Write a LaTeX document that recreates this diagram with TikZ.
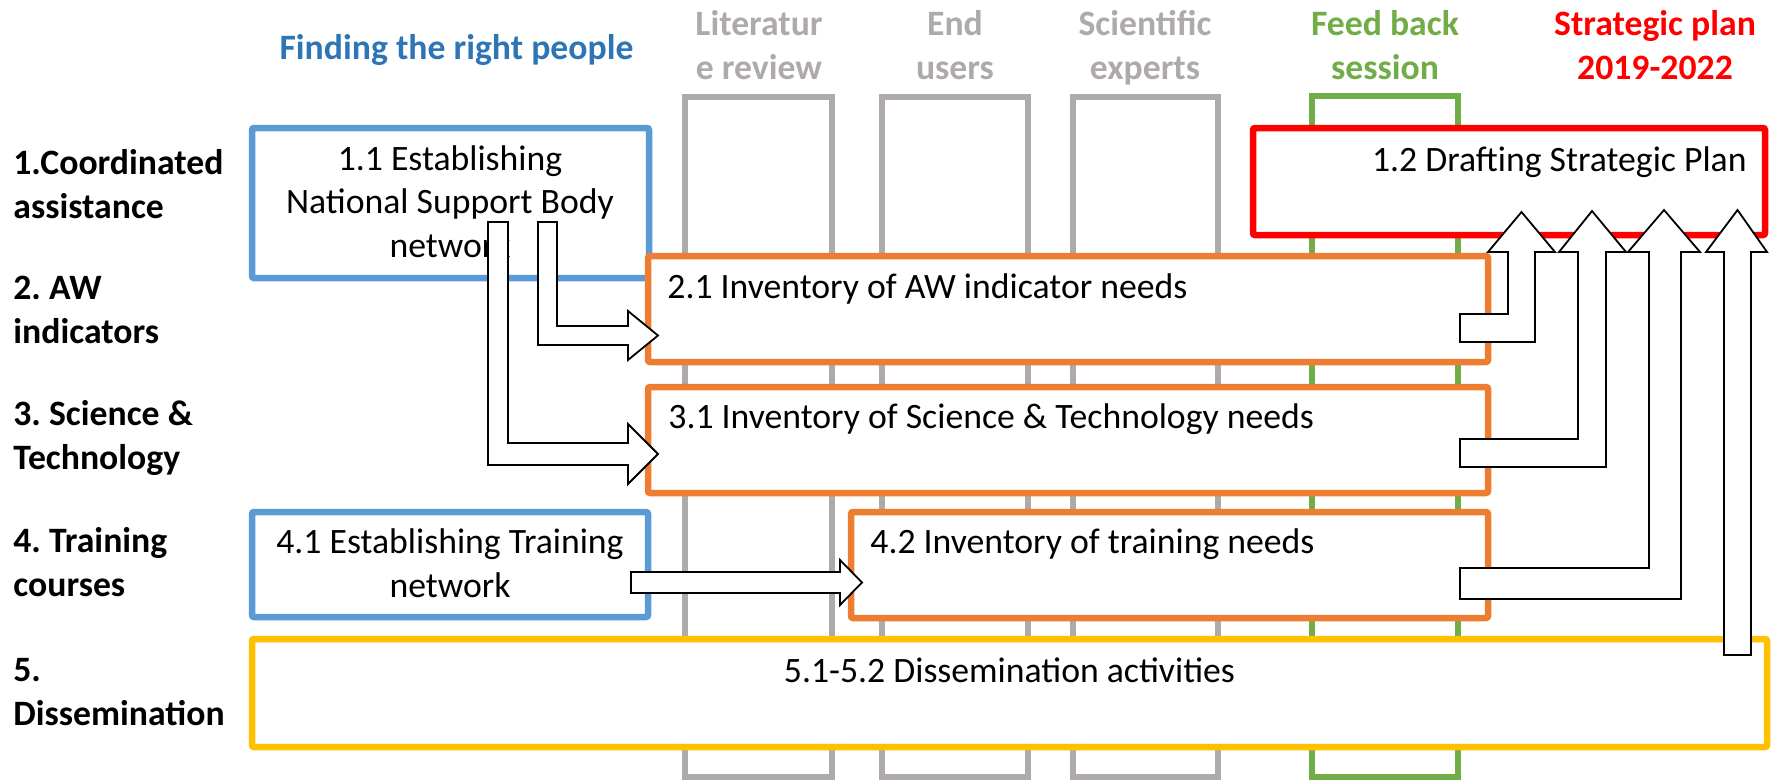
\documentclass[tikz,border=0pt]{standalone}
\usepackage{fontspec}
\setmainfont{Carlito}
\usetikzlibrary{fit}
\definecolor{boxblue}{HTML}{5B9BD5}
\definecolor{headblue}{HTML}{2E75B6}
\definecolor{boxorange}{HTML}{ED7D31}
\definecolor{boxyellow}{HTML}{FFC000}
\definecolor{colgrey}{HTML}{AEAAAA}
\definecolor{colgreen}{HTML}{70AD47}
\definecolor{planred}{HTML}{FF0000}
\frenchspacing

\begin{document}
\begin{tikzpicture}[x=0.5pt, y=-0.5pt,
    txt/.style={inner sep=0pt, font=\fontsize{17.85pt}{21.75pt}\selectfont},
    lbl/.style={txt, font=\fontsize{17.85pt}{21.75pt}\selectfont\bfseries, align=left, anchor=base west},
    head/.style={txt, font=\fontsize{17.85pt}{21.75pt}\selectfont\bfseries, align=center, anchor=base},
    column/.style={draw=colgrey, line width=3.25pt, inner sep=0pt},
    box/.style={draw, fill=white, line width=3.25pt, rounded corners=1pt, inner sep=0pt},
    blockarrow/.style={draw=black, fill=white, line width=0.9pt, line join=miter}]
    \useasboundingbox (0,0) rectangle (1773,782);

    % columns behind the boxes
    \node [column, fit={(685,97) (832,777)}] (litcol) {};
    \node [column, fit={(882,97) (1028,777)}] (endcol) {};
    \node [column, fit={(1073,97) (1218,777)}] (scicol) {};
    \node [column, draw=colgreen, fit={(1312,96) (1458,777)}] (feedcol) {};

    % headers (base = last line)
    \node [head, text=headblue] (hpeople) at (456.5,59) {Finding the right people};
    \node [head, text=colgrey] (hlit) at (759,79) {Literatur\\e review};
    \node [head, text=colgrey] (hend) at (955,79) {End\\users};
    \node [head, text=colgrey] (hsci) at (1145,79) {Scientific\\experts};
    \node [head, text=colgreen] (hfeed) at (1385,79) {Feed back\\session};
    \node [head, text=planred] (hplan) at (1655,79) {Strategic plan\\2019-2022};

    % rows
    \node [lbl] (row1) at (13,218) {1.Coordinated\\assistance};
    \node [lbl] (row2) at (13,343) {2. AW\\indicators};
    \node [lbl] (row3) at (13,469) {3. Science \&\\Technology};
    \node [lbl] (row4) at (13,596) {4. Training\\courses};
    \node [lbl] (row5) at (13,725) {5.\\Dissemination};

    % boxes
    \node [box, draw=boxblue, fit={(252,128) (649,278)}] (b11) {};
    \node [box, draw=planred, fit={(1253,128) (1765,235)}] (b12) {};
    \node [box, draw=boxorange, fit={(648,256) (1488,362)}] (b21) {};
    \node [box, draw=boxorange, fit={(648,387) (1488,493)}] (b31) {};
    \node [box, draw=boxblue, fit={(252,512) (648,617)}] (b41) {};
    \node [box, draw=boxorange, fit={(851,512) (1488,618)}] (b42) {};
    \node [box, draw=boxyellow, fit={(252,639) (1767,747)}] (b5) {};

    \node [txt, align=center, anchor=base] (t11) at (450,257) {1.1 Establishing\\National Support Body\\network};
    \node [txt, anchor=base east] (t12) at (1747,171) {1.2 Drafting Strategic Plan};
    \node [txt, anchor=base west] (t21) at (667,298) {2.1 Inventory of AW indicator needs};
    \node [txt, anchor=base west] (t31) at (668,428) {3.1 Inventory of Science \& Technology needs};
    \node [txt, align=center, anchor=base] (t41) at (450,597) {4.1 Establishing Training\\network};
    \node [txt, anchor=base west] (t42) at (870,553) {4.2 Inventory of training needs};
    \node [txt, anchor=base] (t5) at (1009.5,682) {5.1-5.2 Dissemination activities};

    % block arrows
    \draw [blockarrow] (538,222) -- (557,222) -- (557,326) -- (628,326) -- (628,311)
        -- (658,335.5) -- (628,360) -- (628,345) -- (538,345) -- cycle;
    \draw [blockarrow] (488,222) -- (508,222) -- (508,443) -- (628,443) -- (628,424)
        -- (658,454) -- (628,484) -- (628,465) -- (488,465) -- cycle;
    \draw [blockarrow] (631,572) -- (840,572) -- (840,560) -- (862,582.5) -- (840,605)
        -- (840,593) -- (631,593) -- cycle;
    \draw [blockarrow] (1460,314) -- (1508,314) -- (1508,252) -- (1488,252) -- (1521.5,212)
        -- (1555,252) -- (1535,252) -- (1535,342) -- (1460,342) -- cycle;
    \draw [blockarrow] (1460,439) -- (1578,439) -- (1578,252) -- (1559,252) -- (1592,211)
        -- (1626,252) -- (1606,252) -- (1606,467) -- (1460,467) -- cycle;
    \draw [blockarrow] (1460,568) -- (1649,568) -- (1649,252) -- (1628,252) -- (1664,210)
        -- (1700,252) -- (1681,252) -- (1681,599) -- (1460,599) -- cycle;
    \draw [blockarrow] (1724,655) -- (1724,252) -- (1706,252) -- (1737.5,210) -- (1767,252)
        -- (1751,252) -- (1751,655) -- cycle;
\end{tikzpicture}
\end{document}
